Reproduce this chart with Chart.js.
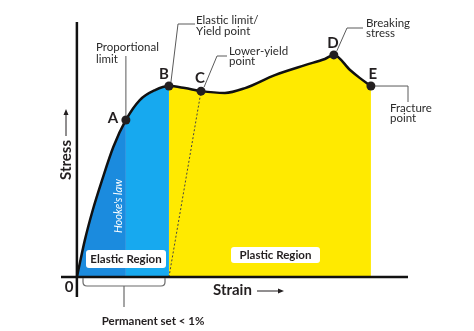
<!DOCTYPE html>
<html>
<head>
<meta charset="utf-8">
<script src="https://cdn.jsdelivr.net/npm/chart.js@4.4.0/dist/chart.umd.min.js"></script>
<style>
  html, body { margin: 0; padding: 0; background: #fff; }
  #wrap { width: 474px; height: 331px; }
</style>
</head>
<body>
<div id="wrap"><canvas id="chart" width="474" height="331"></canvas></div>
<script>
// stress-strain curve (arbitrary units)
const strain = [0, 2.4, 4.8, 7.6, 11.0, 14.8, 19.0, 23.6, 27.8, 32.6, 37.5, 44.7, 50.8, 59.8, 68.9, 74.9, 77.6, 82.5, 85.5, 88.8];
const stress = [0, 14.5, 26.3, 38.0, 51.0, 61.6, 69.4, 73.3, 74.9, 74.1, 72.9, 72.2, 74.1, 79.2, 83.1, 85.5, 87.1, 81.2, 78.0, 74.9];

// labelled points A..E
const keyLabels = ['A', 'B', 'C', 'D', 'E'];
const keyStrain = [14.8, 27.8, 37.5, 77.6, 88.8];
const keyStress = [61.6, 74.9, 72.9, 87.1, 74.9];

// dotted unloading line (permanent set) up to the lower-yield point
const setStrain = [27.8, 37.5];
const setStress = [0, 72.9];

const DARK_BLUE = '#1b8bde';
const LIGHT_BLUE = '#17a9ef';
const YELLOW = '#ffea00';
const INK = '#231f20';
const TEXT = '#2b2b2b';
const LEADER = '#5a5a5a';

const pts = (xs, ys) => xs.map((x, i) => ({ x: x, y: ys[i] }));

const annotations = {
  id: 'annotations',
  afterDatasetsDraw(chart) {
    const ctx = chart.ctx;
    const area = chart.chartArea;
    const xs = chart.scales.x, ys = chart.scales.y;
    const x0 = xs.getPixelForValue(0);
    const y0 = ys.getPixelForValue(0);
    const key = chart.getDatasetMeta(0).data.map(p => ({ x: p.x, y: p.y }));
    const [A, B, C, D, E] = key;

    ctx.save();

    // axes
    ctx.strokeStyle = '#111';
    ctx.lineWidth = 2.5;
    ctx.beginPath();
    ctx.moveTo(x0, area.top); ctx.lineTo(x0, area.bottom);
    ctx.moveTo(area.left, y0); ctx.lineTo(area.right, y0);
    ctx.stroke();

    // Hooke's law (vertical, inside the dark blue band)
    ctx.save();
    ctx.translate(A.x - 7, 206);
    ctx.rotate(-Math.PI / 2);
    ctx.fillStyle = '#ffffff';
    ctx.font = 'italic 11px Lato';
    ctx.textAlign = 'center';
    ctx.textBaseline = 'middle';
    ctx.fillText("Hooke's law", 0, 0);
    ctx.restore();

    // region boxes
    function box(x, y, w, h, label) {
      ctx.fillStyle = '#ffffff';
      ctx.beginPath();
      ctx.roundRect(x, y, w, h, 3);
      ctx.fill();
      ctx.fillStyle = INK;
      ctx.font = 'bold 11.5px Lato';
      ctx.textAlign = 'center';
      ctx.textBaseline = 'middle';
      ctx.fillText(label, x + w / 2, y + h / 2 + 0.5);
    }
    box(86, 250, 80, 18, 'Elastic Region');
    box(231, 247, 89, 16, 'Plastic Region');

    // leader lines
    ctx.strokeStyle = LEADER;
    ctx.lineWidth = 1;
    ctx.beginPath();
    ctx.moveTo(A.x, 56); ctx.lineTo(A.x, A.y - 4);
    ctx.moveTo(195, 24); ctx.lineTo(178, 24); ctx.lineTo(B.x + 2, B.y - 4);
    ctx.moveTo(227, 56); ctx.lineTo(217, 56); ctx.lineTo(C.x + 3, C.y - 4);
    ctx.moveTo(363, 28); ctx.lineTo(347, 28); ctx.lineTo(D.x + 3, D.y - 4);
    ctx.moveTo(E.x + 4, E.y); ctx.lineTo(408, E.y); ctx.lineTo(408, 102);
    ctx.stroke();

    // bracket under the elastic region
    ctx.strokeStyle = '#6a6a6a';
    ctx.lineWidth = 1.2;
    ctx.beginPath();
    ctx.moveTo(83, 278); ctx.lineTo(83, 282);
    ctx.quadraticCurveTo(83, 286, 87, 286);
    ctx.lineTo(161, 286);
    ctx.quadraticCurveTo(165, 286, 165, 282);
    ctx.lineTo(165, 278);
    ctx.moveTo(124, 286); ctx.lineTo(124, 307);
    ctx.stroke();

    // annotation texts
    ctx.fillStyle = TEXT;
    ctx.font = '11.5px Lato';
    ctx.textAlign = 'left';
    ctx.textBaseline = 'middle';
    const notes = [
      ['Proportional', 96, 47], ['limit', 96, 59],
      ['Elastic limit/', 196, 20], ['Yield point', 196, 31],
      ['Lower-yield', 229, 51], ['point', 229, 61],
      ['Breaking', 366, 23], ['stress', 366, 33],
      ['Fracture', 390, 108], ['point', 390, 118]
    ];
    notes.forEach(([t, x, y]) => ctx.fillText(t, x, y));

    // point letters
    ctx.fillStyle = INK;
    ctx.font = 'bold 15px Lato';
    ctx.textAlign = 'center';
    const shift = [[-13, -2], [-5, -12], [-1, -13], [-1, -12], [2, -12]];
    key.forEach((p, i) => ctx.fillText(keyLabels[i], p.x + shift[i][0], p.y + shift[i][1]));

    // origin and axis titles
    ctx.fillText('0', 69, 287);
    ctx.textAlign = 'left';
    ctx.fillText('Strain', 213, 290);
    ctx.save();
    ctx.translate(66, 180);
    ctx.rotate(-Math.PI / 2);
    ctx.fillText('Stress', 0, 0);
    ctx.restore();

    ctx.font = 'bold 11.5px Lato';
    ctx.textAlign = 'center';
    ctx.fillText('Permanent set < 1%', 153, 321);

    // small arrows
    ctx.strokeStyle = INK;
    ctx.fillStyle = INK;
    ctx.lineWidth = 1;
    ctx.beginPath();
    ctx.moveTo(257, 291); ctx.lineTo(280, 291);
    ctx.moveTo(66, 136); ctx.lineTo(66, 113);
    ctx.stroke();
    ctx.beginPath();
    ctx.moveTo(284, 291); ctx.lineTo(278, 288.5); ctx.lineTo(278, 293.5); ctx.closePath();
    ctx.moveTo(66, 109); ctx.lineTo(63.5, 115); ctx.lineTo(68.5, 115); ctx.closePath();
    ctx.fill();

    ctx.restore();
  }
};

new Chart(document.getElementById('chart'), {
  type: 'line',
  data: {
    datasets: [
      {
        label: 'Key points',
        data: pts(keyStrain, keyStress),
        showLine: false,
        pointRadius: 4.5,
        pointBackgroundColor: INK,
        pointBorderWidth: 0,
        order: 0
      },
      {
        label: 'Stress-strain',
        data: pts(strain, stress),
        borderColor: '#111111',
        borderWidth: 2.5,
        pointRadius: 0,
        cubicInterpolationMode: 'monotone',
        fill: 'origin',
        backgroundColor: YELLOW,
        segment: {
          backgroundColor: c => {
            const x = c.p0.parsed.x;
            if (x < keyStrain[0]) return DARK_BLUE;
            if (x < keyStrain[1]) return LIGHT_BLUE;
            return YELLOW;
          }
        },
        order: 1
      },
      {
        label: 'Permanent set',
        data: pts(setStrain, setStress),
        borderColor: '#444444',
        borderWidth: 1,
        borderDash: [2, 2],
        pointRadius: 0,
        fill: false,
        order: 2
      }
    ]
  },
  options: {
    responsive: false,
    animation: false,
    layout: { padding: { left: 61, right: 66, top: 22, bottom: 34 } },
    scales: {
      x: { type: 'linear', min: -4.8, max: 100, display: false },
      y: { type: 'linear', min: -7.8, max: 100, display: false }
    },
    plugins: {
      legend: { display: false },
      tooltip: { enabled: false },
      filler: { drawTime: 'beforeDatasetsDraw' }
    }
  },
  plugins: [annotations]
});
</script>
</body>
</html>
